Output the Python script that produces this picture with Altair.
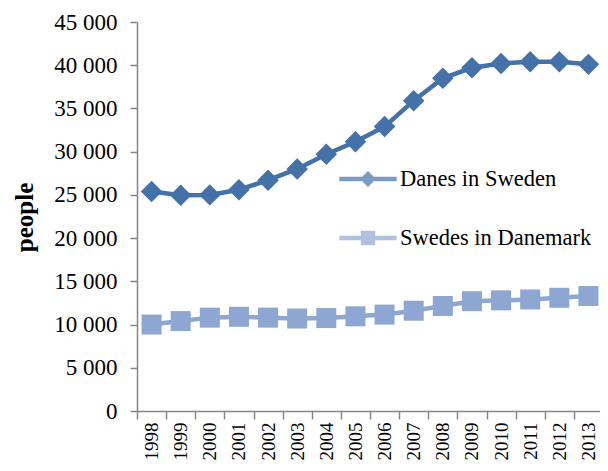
import altair as alt
import pandas as pd

years = [str(y) for y in range(1998, 2014)]
danes_in_sweden = [25400, 24950, 25000, 25600, 26700, 28000, 29700, 31150, 32900, 35900,
                   38500, 39700, 40200, 40400, 40400, 40100]
swedes_in_denmark = [10000, 10400, 10800, 10900, 10800, 10700, 10750, 10950, 11150, 11600,
                     12150, 12700, 12800, 12900, 13100, 13300]
series_names = ["Danes in Sweden", "Swedes in Danemark"]
colors = ["#4571A9", "#8EA6D2"]

df = pd.DataFrame({
    "year": years * 2,
    "people": danes_in_sweden + swedes_in_denmark,
    "series": [series_names[0]] * len(years) + [series_names[1]] * len(years),
})

FONT = "Liberation Serif"

x_enc = alt.X("year:O", sort=years,
              scale=alt.Scale(paddingInner=0, paddingOuter=0),
              axis=alt.Axis(title=None, labelAngle=270, labelAlign="right", labelBaseline="middle",
                            labelFontSize=19, labelFont=FONT, labelColor="#000000",
                            tickBand="extent", tickSize=8, labelPadding=3,
                            domainColor="#868686", tickColor="#868686",
                            domainWidth=1.5, tickWidth=1.5, grid=False))
y_enc = alt.Y("people:Q",
              scale=alt.Scale(domain=[0, 45000], nice=False),
              axis=alt.Axis(title="people", values=list(range(0, 45001, 5000)),
                            labelExpr="replace(format(datum.value, ','), ',', ' ')",
                            labelFontSize=23, labelFont=FONT, labelColor="#000000",
                            labelPadding=13, tickSize=7,
                            titleFont=FONT, titleFontSize=25, titleFontWeight="bold",
                            titleColor="#000000", titleX=-100, titleY=195,
                            domainColor="#868686", tickColor="#868686",
                            domainWidth=1.5, tickWidth=1.5, grid=False))

color_scale = alt.Scale(domain=series_names, range=colors)

base = alt.Chart(df)

lines = base.mark_line(strokeWidth=4.5).encode(
    x=x_enc, y=y_enc,
    color=alt.Color("series:N", scale=color_scale, legend=None),
)

points = base.mark_point(filled=True, opacity=1).encode(
    x=x_enc, y=y_enc,
    color=alt.Color("series:N", scale=color_scale, legend=None),
    shape=alt.Shape("series:N", scale=alt.Scale(domain=series_names, range=["diamond", "square"]),
                    legend=None),
    size=alt.Size("series:N", scale=alt.Scale(domain=series_names, range=[460, 400]), legend=None),
)

legend_paths = [
    "M-1,-0.08H1V0.08H-1Z M-0.28,0L0,-0.28L0.28,0L0,0.28Z",
    "M-1,-0.08H1V0.08H-1Z M-0.25,-0.25H0.25V0.25H-0.25Z",
]

legend_props = dict(title=None, orient="none", legendX=202, legendY=128,
                    symbolSize=3300, symbolStrokeWidth=0,
                    labelFont=FONT, labelFontSize=22.5, labelColor="#000000",
                    labelOffset=3, rowPadding=18, padding=0, labelLimit=400)

legend_layer = base.transform_filter("false").mark_point(filled=True).encode(
    x=x_enc, y=y_enc,
    color=alt.Color("series:N", scale=color_scale, legend=alt.Legend(**legend_props)),
    shape=alt.Shape("series:N", scale=alt.Scale(domain=series_names, range=legend_paths),
                    legend=alt.Legend(**legend_props)),
)

chart = alt.layer(lines, points, legend_layer).resolve_scale(
    color="independent", shape="independent", size="independent"
).properties(
    width=466, height=389,
    autosize=alt.AutoSizeParams(type="none"),
    padding={"left": 129, "top": 14, "right": -3, "bottom": 52},
    background="#ffffff",
).configure_view(stroke=None)

chart.save("out.html", embed_options={"renderer": "svg", "actions": False})
